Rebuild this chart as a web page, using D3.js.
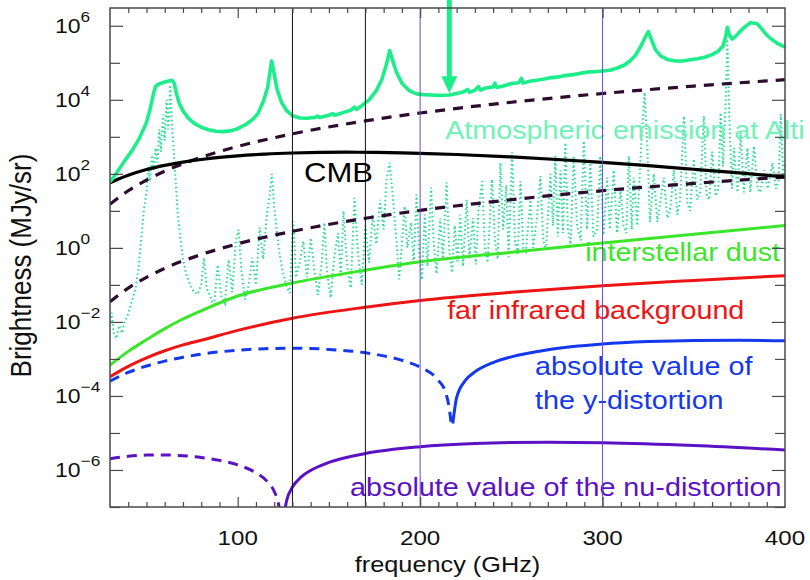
<!DOCTYPE html>
<html><head><meta charset="utf-8">
<script src="https://cdn.jsdelivr.net/npm/d3@7"></script>
<style>body{margin:0;background:#fff}</style></head>
<body>
<svg id="c" width="810" height="580"></svg>
<script>
// ---------------- DATA ----------------
const xMajorTicks = [100, 200, 300, 400];
const xMinorTicks = [40,50,60,70,80,90,110,120,130,140,150,160,170,180,190,210,220,230,240,250,260,270,280,290,310,320,330,340,350,360,370,380,390];
const yTickExponents = [-7,-6,-5,-4,-3,-2,-1,0,1,2,3,4,5,6];
const yLabelExponents = [6,4,2,0,-2,-4,-6];
const verticalBlack = [130, 170];
const verticalPurple = [200, 300];

// CMB (MJy/sr)
const cmbFreq = [30,35,40,50,60,70,80,90,100,115,130,145,160,175,190,200,220,250,275,300,325,350,375,400];
const cmbVal  = [57,74,92,131,170,208,244,277,306,341,365,379,384,380,369,359,333,286,244,203,166,133,106,83];

// dashed dark curves (MJy/sr)
const dashFreq = [30,40,50,60,80,100,130,170,200,250,300,350,400];
const dashUpper = [15,35,68,118,280,550,1200,2700,4400,8600,14800,23500,35000];
const dashLower = [0.035,0.082,0.16,0.28,0.66,1.29,2.8,6.3,10.3,20,35,55,82];

// interstellar dust and far infrared background (MJy/sr)
const galFreq = [30,40,50,60,70,80,100,130,170,200,250,300,350,400];
const dustVal = [6.8e-4,1.6e-3,3.3e-3,6.6e-3,0.012,0.02,0.05,0.112,0.25,0.42,0.76,1.35,2.35,4.0];
const firbVal = [3.3e-4,6.3e-4,1.07e-3,1.66e-3,2.4e-3,3.2e-3,5.9e-3,0.0126,0.025,0.038,0.063,0.095,0.132,0.178];

// y-distortion (signed, MJy/sr)
const yFreq = [30,40,50,60,70,80,100,115,130,150,170,190,200,210,214,216,217,217.9,220,225,230,240,250,270,300,325,350,375,400];
const yVal  = [-2.52e-4,-4.31e-4,-6.43e-4,-8.74e-4,-1.11e-3,-1.34e-3,-1.72e-3,-1.89e-3,-1.95e-3,-1.81e-3,-1.46e-3,-9.2e-4,-6.0e-4,-2.62e-4,-1.23e-4,-4.5e-5,-1.8e-5,1.8e-5,9e-5,2.7e-4,4.46e-4,7.97e-4,1.14e-3,1.77e-3,2.53e-3,2.94e-3,3.16e-3,3.2e-3,3.11e-3];

// nu-distortion (signed, MJy/sr)
const muFreq = [30,40,50,60,70,80,90,100,110,116,120,122,123.5,125.5,127,130,135,140,150,170,200,230,250,270,300,350,400];
const muVal  = [-2.0e-6,-2.34e-6,-2.52e-6,-2.54e-6,-2.43e-6,-2.18e-6,-1.82e-6,-1.37e-6,-8.4e-7,-5.0e-7,-2.65e-7,-1.45e-7,-6e-8,6.9e-8,1.6e-7,3.46e-7,6.6e-7,9.7e-7,1.6e-6,2.79e-6,4.25e-6,5.19e-6,5.52e-6,5.62e-6,5.45e-6,4.58e-6,3.45e-6];

// atmospheric emission, solid (frequency GHz, log10 MJy/sr)
const atmoSolidLog10 = [[30,1.78],[34,2.05],[38,2.35],[42,2.62],[46,2.95],[50,3.39],[52,3.75],[54,4.2],[55,4.36],[56.5,4.42],[60,4.48],[63.8,4.53],[65.2,4.45],[66.5,4.15],[68,3.9],[70,3.7],[73,3.5],[76,3.37],[80,3.26],[84,3.19],[88,3.15],[92,3.14],[96,3.16],[100,3.22],[104,3.32],[108,3.46],[111,3.62],[114,3.95],[116.5,4.35],[118.6,5.05],[120,4.7],[121.5,4.3],[124,3.93],[127,3.7],[130,3.57],[134,3.51],[138,3.5],[142,3.52],[144,3.56],[145,3.52],[150,3.58],[152,3.63],[153,3.58],[158,3.66],[162,3.72],[164,3.8],[165,3.74],[168,3.84],[172,4.0],[176,4.25],[179,4.55],[181.5,4.95],[183.3,5.33],[185,5.05],[187,4.75],[190,4.45],[194,4.25],[198,4.16],[202,4.14],[206,4.13],[210,4.12],[216,4.13],[220,4.17],[224,4.22],[226,4.28],[227,4.2],[230,4.26],[232,4.36],[233,4.26],[236,4.32],[240,4.35],[241,4.45],[242,4.33],[246,4.38],[250,4.44],[254,4.46],[255.5,4.58],[256.5,4.45],[260,4.5],[264,4.53],[268,4.56],[272,4.6],[276,4.62],[280,4.66],[284,4.68],[288,4.72],[292,4.75],[296,4.76],[300,4.78],[304,4.8],[308,4.86],[312,4.94],[315,5.05],[318,5.2],[321,5.45],[323,5.65],[325.1,5.84],[327,5.6],[329,5.35],[332,5.18],[336,5.08],[340,5.05],[344,5.05],[348,5.08],[352,5.11],[356,5.15],[360,5.22],[363,5.3],[366,5.45],[367.5,5.7],[368.4,5.96],[369.5,5.75],[371,5.64],[373,5.72],[375.5,5.85],[378,5.97],[381,6.08],[384.6,6.06],[387,5.93],[390,5.75],[393,5.62],[396,5.52],[398,5.47],[400,5.42]];

// atmospheric emission, dotted (frequency GHz, log10 MJy/sr)
const atmoDottedLog10 = [[30,-2.0],[31,-1.75],[32,-2.3],[33.5,-2.45],[35,-2.1],[36.5,-2.3],[38,-2.0],[39.5,-1.85],[41,-1.6],[42.5,-1.35],[44,-1.1],[45.5,-0.6],[47,0.2],[48.5,1.0],[50,1.5],[51,2.2],[52,1.8],[53,2.5],[54,2.1],[55,2.7],[56,2.3],[57,3.2],[58,2.6],[59,3.6],[60,2.9],[61,4.0],[62,3.2],[63,4.4],[64,3.3],[65,2.6],[66,1.8],[67,1.0],[68.5,0.3],[70,-0.3],[72,-0.75],[74,-1.0],[76,-1.2],[78,-1.25],[80,-1.0],[81.5,-0.27],[83,-1.1],[85,-1.3],[87,-1.6],[89,-0.46],[91,-1.3],[93,-1.5],[95,-0.32],[97,-1.2],[99,0.2],[100.5,0.49],[102,-0.6],[104,-1.4],[106,-1.0],[108,-0.27],[110,-1.0],[112,0.55],[114,-0.3],[116,0.9],[117.5,1.4],[118.7,2.0],[120,1.1],[121.5,0.41],[123,-0.2],[124.5,-0.59],[126.5,-1.0],[128.5,-1.22],[130.5,0.72],[132,-0.8],[134,-0.4],[136,0.18],[138,-0.8],[140,0.27],[142,-0.6],[144,-1.27],[146,-0.4],[147.5,0.68],[149,-0.7],[151,-1.35],[153,-0.2],[155,0.4],[156.5,-0.8],[158,0.99],[160,-0.5],[162,-1.08],[164,1.35],[166,-0.2],[168,-1.0],[170,0.6],[172,-0.4],[174,0.9],[176,0.1],[178,1.3],[180,0.5],[181.5,1.8],[183.3,2.3],[185,1.4],[187,0.2],[188.5,-0.85],[190,0.1],[191.5,1.12],[193,0.0],[195,0.68],[196.5,-0.4],[198,1.44],[199.5,-0.2],[201,-0.86],[202.5,0.9],[204,-0.5],[206,1.63],[207.5,0.1],[209,-0.7],[211,0.8],[212.5,-0.3],[214.5,1.77],[216,-0.1],[217.5,-0.67],[219,0.6],[220.5,-0.4],[222,0.9],[223.5,-0.5],[225.5,1.3],[227,-0.3],[229,0.8],[230.5,-0.45],[232,1.0],[234,1.8],[235.5,0.0],[237,-0.4],[239.4,1.85],[241,0.2],[242.5,-0.3],[244,2.3],[245.5,0.5],[247.2,1.7],[248.5,-0.25],[250.4,2.58],[252,0.2],[253.5,-0.2],[255,1.8],[256.5,0.0],[258,-0.1],[260.4,1.3],[262,0.0],[264,0.8],[265.9,1.94],[267.5,0.2],[269,-0.05],[271.4,2.0],[272.8,0.6],[274.1,2.48],[275.5,0.3],[276.9,2.1],[278.3,0.4],[279.6,2.84],[281,0.5],[282.5,0.1],[284.2,2.48],[286,0.6],[288,0.2],[289.7,2.89],[291.5,0.5],[293.3,2.3],[295,0.3],[297,0.5],[298.8,2.48],[300.5,0.35],[302.5,1.9],[304,0.5],[306.1,2.1],[308,0.4],[309.8,1.6],[311.5,0.6],[313,0.4],[314.4,2.48],[316,0.5],[317.1,1.9],[319,0.6],[321,2.6],[323,4.2],[324.5,2.8],[326,0.7],[328.1,2.0],[330,0.7],[331.5,1.2],[333.6,1.9],[335.5,0.8],[337,1.0],[339.1,2.1],[341,0.9],[342.5,1.3],[344.6,3.56],[346.5,1.2],[348,1.0],[350,2.4],[352,1.3],[353.5,1.5],[355.5,3.56],[357,1.4],[358.5,1.3],[360.1,2.6],[362,1.4],[363.5,1.6],[364.7,3.65],[366,2.2],[367.5,4.0],[368.4,5.64],[369.5,3.5],[371,1.6],[372,2.7],[374,1.5],[375.7,3.12],[377.5,1.5],[379.4,2.7],[381,1.5],[383,2.75],[385,1.6],[386.5,1.5],[388.5,2.1],[390.5,1.6],[393.1,2.3],[395,1.6],[396.5,1.8],[397.7,3.61],[399,2.0],[400,2.3]];

// arrow (frequency GHz, from / to brightness)
const arrowFreq = 216;
const arrowFrom = 5.2e6;
const arrowTo = 1.5e4;

// text annotations [text, freq, brightness, anchor, colorKey, size]
const annotations = [
  ["CMB", 136.4, 59, "start", "cmb", 27],
  ["Atmospheric emission at Alti", 213.7, 850, "start", "atmoText", 25],
  ["interstellar dust", 397.3, 0.43, "end", "dust", 25],
  ["far infrared background", 214.8, 0.012, "start", "firb", 25],
  ["absolute value of", 263, 3.6e-4, "start", "ydist", 25],
  ["the y-distortion", 263, 4.4e-5, "start", "ydist", 25],
  ["absolute value of the nu-distortion", 161.6, 1.95e-7, "start", "mu", 25]
];

// ---------------- DRAWING ----------------
const C = {cmb:"#000000", dash:"#2d0c30", dust:"#3ae62a", firb:"#ee1414", ydist:"#1438ee", mu:"#5a12c4",
           atmo:"#1cee8a", atmoDot:"#2fdc9a", atmoText:"#70f2b8", vblack:"#111111", vpurple:"#6a48d0", axis:"#4a4a4a"};
const FONT = "'Liberation Sans', Arial, Helvetica, sans-serif";
const SX = 1.15;

const X0 = 110, X1 = 785, Y0 = 8, Y1 = 507;
const x = d3.scaleLinear().domain([30, 400]).range([X0, X1]);
const y = d3.scaleLog().domain([1e-7, 3.02e6]).range([Y1, Y0]);

const svg = d3.select("#c");
svg.append("rect").attr("width", 810).attr("height", 580).attr("fill", "#fff");
svg.append("defs").append("clipPath").attr("id", "pc")
  .append("rect").attr("x", X0).attr("y", Y0).attr("width", X1 - X0).attr("height", Y1 - Y0);

const plot = svg.append("g").attr("clip-path", "url(#pc)");

const lineV = d3.line().x(d => x(d[0])).y(d => y(Math.abs(d[1]))).curve(d3.curveMonotoneX);
const lineL = d3.line().x(d => x(d[0])).y(d => y(Math.pow(10, d[1])));

function zip(a, b) { return a.map((v, i) => [v, b[i]]); }

// dotted atmosphere
plot.append("path").attr("d", lineL(atmoDottedLog10)).attr("fill", "none")
  .attr("stroke", C.atmoDot).attr("stroke-width", 2).attr("stroke-dasharray", "1.6,2.6");

// dashed dark curves
[dashUpper, dashLower].forEach(arr => {
  plot.append("path").attr("d", lineV(zip(dashFreq, arr))).attr("fill", "none")
    .attr("stroke", C.dash).attr("stroke-width", 3.2).attr("stroke-dasharray", "10,8");
});

// galactic
plot.append("path").attr("d", lineV(zip(galFreq, dustVal))).attr("fill", "none").attr("stroke", C.dust).attr("stroke-width", 3);
plot.append("path").attr("d", lineV(zip(galFreq, firbVal))).attr("fill", "none").attr("stroke", C.firb).attr("stroke-width", 3);

// signed distortions
function signed(freqs, vals, color) {
  const pts = zip(freqs, vals);
  const neg = pts.filter(p => p[1] < 0), pos = pts.filter(p => p[1] > 0);
  plot.append("path").attr("d", lineV(neg)).attr("fill", "none").attr("stroke", color)
    .attr("stroke-width", 3).attr("stroke-dasharray", "10,7");
  plot.append("path").attr("d", lineV(pos)).attr("fill", "none").attr("stroke", color).attr("stroke-width", 3);
}
signed(yFreq, yVal, C.ydist);
signed(muFreq, muVal, C.mu);

// CMB
plot.append("path").attr("d", lineV(zip(cmbFreq, cmbVal))).attr("fill", "none").attr("stroke", C.cmb).attr("stroke-width", 3.2);

// atmosphere solid
plot.append("path").attr("d", lineL(atmoSolidLog10)).attr("fill", "none").attr("stroke", C.atmo)
  .attr("stroke-width", 3.6).attr("stroke-linejoin", "round");

// annotations
annotations.forEach(([t, f, v, anchor, ck, size]) => {
  svg.append("text").attr("transform", `translate(${x(f)},${y(v)}) scale(${SX},1)`)
    .attr("text-anchor", anchor).attr("font-family", FONT).attr("font-size", size)
    .attr("fill", C[ck]).text(t);
});

// vertical reference lines
verticalBlack.forEach(f => svg.append("line").attr("x1", x(f)).attr("x2", x(f)).attr("y1", Y0).attr("y2", Y1)
  .attr("stroke", C.vblack).attr("stroke-width", 1));
verticalPurple.forEach(f => svg.append("line").attr("x1", x(f)).attr("x2", x(f)).attr("y1", Y0).attr("y2", Y1)
  .attr("stroke", C.vpurple).attr("stroke-width", 1));

// arrow
const ax = x(arrowFreq), ayTip = y(arrowTo), ayTop = y(arrowFrom);
svg.append("line").attr("x1", ax).attr("x2", ax).attr("y1", ayTop).attr("y2", ayTip - 12)
  .attr("stroke", C.atmo).attr("stroke-width", 5);
svg.append("path").attr("d", `M${ax - 8},${ayTip - 17} L${ax + 8},${ayTip - 17} L${ax},${ayTip} Z`).attr("fill", C.atmo);

// axes (ticks inward)
function styleAxis(g) {
  g.select(".domain").remove();
  g.selectAll(".tick line").attr("stroke", C.axis).attr("stroke-width", 1.2);
  g.selectAll(".tick text").remove();
}
const majX = xMajorTicks.filter(v => v < 400);
svg.append("g").attr("transform", `translate(0,${Y1})`).call(d3.axisBottom(x).tickValues(xMinorTicks).tickSize(-5)).call(styleAxis);
svg.append("g").attr("transform", `translate(0,${Y1})`).call(d3.axisBottom(x).tickValues(majX).tickSize(-10)).call(styleAxis);
svg.append("g").attr("transform", `translate(0,${Y0})`).call(d3.axisTop(x).tickValues(xMinorTicks).tickSize(-5)).call(styleAxis);
svg.append("g").attr("transform", `translate(0,${Y0})`).call(d3.axisTop(x).tickValues(majX).tickSize(-10)).call(styleAxis);

const yEven = yTickExponents.filter(e => e % 2 === 0).map(e => Math.pow(10, e));
const yOdd = yTickExponents.filter(e => e % 2 !== 0).map(e => Math.pow(10, e));
svg.append("g").attr("transform", `translate(${X0},0)`).call(d3.axisLeft(y).tickValues(yEven).tickSize(-13)).call(styleAxis);
svg.append("g").attr("transform", `translate(${X0},0)`).call(d3.axisLeft(y).tickValues(yOdd).tickSize(-10)).call(styleAxis);
svg.append("g").attr("transform", `translate(${X1},0)`).call(d3.axisRight(y).tickValues(yEven).tickSize(-13)).call(styleAxis);
svg.append("g").attr("transform", `translate(${X1},0)`).call(d3.axisRight(y).tickValues(yOdd).tickSize(-10)).call(styleAxis);

// frame
svg.append("rect").attr("x", X0).attr("y", Y0).attr("width", X1 - X0).attr("height", Y1 - Y0)
  .attr("fill", "none").attr("stroke", C.axis).attr("stroke-width", 1.5);

// x tick labels
xMajorTicks.forEach(v => {
  svg.append("text").attr("transform", `translate(${x(v)},${Y1 + 38}) scale(${SX},1)`)
    .attr("text-anchor", "middle").attr("font-family", FONT).attr("font-size", 21).attr("fill", "#111").text(v);
});
// y tick labels (left-aligned, as in the reference)
yLabelExponents.forEach(e => {
  const t = svg.append("text").attr("transform", `translate(55,${y(Math.pow(10, e)) + 7}) scale(${SX},1)`)
    .attr("text-anchor", "start").attr("font-family", FONT).attr("font-size", 20).attr("fill", "#111");
  t.append("tspan").text("10");
  t.append("tspan").attr("dy", -11).attr("font-size", 15).text(e < 0 ? "\u2212" + (-e) : String(e));
});

// axis titles
svg.append("text").attr("transform", `translate(${(X0 + X1) / 2},${Y1 + 65}) scale(${SX},1)`)
  .attr("text-anchor", "middle").attr("font-family", FONT).attr("font-size", 22).attr("fill", "#111").text("frequency (GHz)");
svg.append("text").attr("transform", `translate(31,${(Y0 + Y1) / 2 + 8}) rotate(-90) scale(1,${SX})`)
  .attr("text-anchor", "middle").attr("font-family", FONT).attr("font-size", 26).attr("fill", "#111").text("Brightness (MJy/sr)");
</script>
</body></html>
